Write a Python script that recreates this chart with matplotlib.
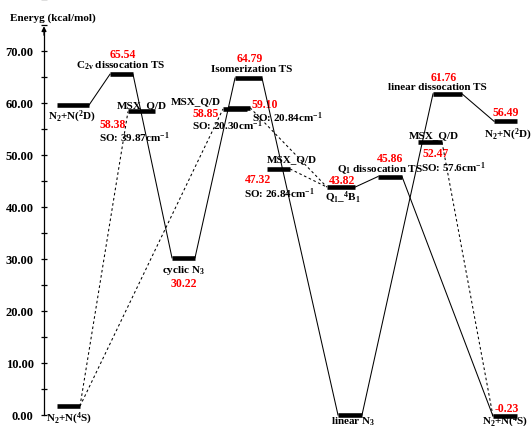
import matplotlib
matplotlib.use('Agg')
import matplotlib.pyplot as plt
from matplotlib.ticker import MultipleLocator, FormatStrFormatter

plt.rcParams['font.family'] = ['Liberation Serif', 'DejaVu Serif']
plt.rcParams['font.weight'] = 'bold'
plt.rcParams['font.size'] = 8
plt.rcParams['mathtext.fontset'] = 'custom'
plt.rcParams['mathtext.rm'] = 'Liberation Serif:bold'
plt.rcParams['mathtext.it'] = 'Liberation Serif:bold:italic'
plt.rcParams['mathtext.bf'] = 'Liberation Serif:bold'

# Stationary points / crossing points along the reaction coordinate (kcal/mol)
states = ['N2+N(2D) in', 'C2v TS', 'MSX 1', 'cyclic N3', 'MSX 2', 'MSX 3',
          'Isomerization TS', 'MSX 4', 'Q1 4B1', 'Q1 TS', 'linear N3', 'MSX 5',
          'linear TS', 'N2+N(2D) out', 'N2+N(4S) out', 'N2+N(4S) in']
energies = [59.60, 65.54, 58.38, 30.22, 58.85, 59.10, 64.79, 47.32, 43.82,
            45.86, 0.00, 52.47, 61.76, 56.49, -0.23, 1.70]
show_value = [False, True, True, True, True, True, True, True, True, True,
              False, True, True, True, True, False]

# horizontal extent of each level along the reaction coordinate
bar_left = [57, 110, 128, 172, 223, 228, 235, 267, 327, 378, 338, 418, 433, 494, 493, 57]
bar_right = [89, 133, 155, 195, 247, 250, 262, 290, 355, 402, 362, 442, 462, 517, 517, 80]

# connections: right end of the first level -> left end of the second
solid_links = [(0, 1), (1, 3), (3, 6), (6, 10), (10, 12), (12, 13), (8, 9), (9, 14)]
dotted_links = [(15, 2), (15, 4), (5, 8), (7, 8), (11, 14)]

# value label offsets (pixels from level centre, y upward)
value_offsets = {1: (1.5, 20), 2: (-28.5, -13), 3: (0.5, -25), 4: (-29, -4),
                 5: (26, 4), 6: (1.5, 20), 7: (-20.5, -10), 8: (1, 7),
                 9: (0, 19), 11: (6, -11), 12: (-3.5, 17), 13: (0, 9), 14: (2, 8)}

# name / annotation labels: text, level index, dx, dy, alignment
name_labels = [
    (r'N$_2$+N($^2$D)', 0, -1, -11, 'center'),
    (r'C$_{\mathrm{2v}}$ dissocation TS', 1, -0.5, 9, 'center'),
    ('MSX_Q/D', 2, 0.5, 7, 'center'),
    (r'SO: 39.87cm$^{-1}$', 2, -7.5, -25, 'center'),
    (r'cyclic N$_3$', 3, 0, -12, 'center'),
    ('MSX_Q/D', 4, -39, 8, 'center'),
    (r'SO: 20.30cm$^{-1}$', 4, -8, -16, 'center'),
    ('Isomerization TS', 6, 3.5, 10, 'center'),
    (r'SO: 20.84cm$^{-1}$', 5, 48, -9, 'center'),
    ('MSX_Q/D', 7, 13.5, 10, 'center'),
    (r'SO: 26.84cm$^{-1}$', 7, 0.5, -24, 'center'),
    (r'Q$_1$_$^4$B$_1$', 8, 2, -10, 'center'),
    (r'Q$_1$ dissocation TS', 9, -10, 8, 'center'),
    (r'linear N$_3$', 10, 3, -6, 'center'),
    ('MSX_Q/D', 11, 4, 8, 'center'),
    (r'SO: 57.6cm$^{-1}$', 11, 23, -25, 'center'),
    ('linear dissocation TS', 12, -10.5, 7, 'center'),
    (r'N$_2$+N($^2$D)', 13, -21, -13, 'left'),
    (r'N$_2$+N($^4$S)', 14, 0, -5, 'center'),
    (r'N$_2$+N($^4$S)', 15, 0.5, -12, 'center'),
]

y_major = [0, 10, 20, 30, 40, 50, 60, 70]

fig = plt.figure(figsize=(5.32, 4.27), dpi=100)
ax = fig.add_axes([0, 0, 1, 1])
px_per_unit = 5.2
ax.set_xlim(0, 532)
ax.set_ylim(-11 / px_per_unit, 416 / px_per_unit)

for s in ['top', 'right', 'bottom']:
    ax.spines[s].set_visible(False)
ax.spines['left'].set_position(('data', 44))
ax.spines['left'].set_bounds(0, 74)
ax.spines['left'].set_linewidth(0.9)
ax.set_xticks([])
ax.set_yticks(y_major)
ax.yaxis.set_minor_locator(MultipleLocator(5))
ax.yaxis.set_major_formatter(FormatStrFormatter('%.2f'))
ax.tick_params(axis='y', which='both', direction='inout', length=5, width=0.9,
               pad=5, labelsize=9)
for t in ax.get_yticklabels():
    t.set_fontweight('bold')
ax.annotate('', xy=(44, 75.3), xytext=(44, 72.5),
            arrowprops=dict(arrowstyle='-|>', lw=0.9, color='k', mutation_scale=7))
ax.text(10, (416 - 18) / px_per_unit, 'Eneryg (kcal/mol)',
        ha='left', va='center', fontsize=8, fontweight='bold')

# connecting paths
for a, b in solid_links:
    ax.plot([bar_right[a], bar_left[b]], [energies[a], energies[b]],
            color='k', lw=0.75, zorder=3)
for a, b in dotted_links:
    ax.plot([bar_right[a], bar_left[b]], [energies[a], energies[b]],
            color='k', lw=0.75, ls=(0, (2.5, 2.5)), zorder=3)

# energy levels
for i in range(len(states)):
    ax.plot([bar_left[i], bar_right[i]], [energies[i], energies[i]],
            color='k', lw=3.3, solid_capstyle='butt', zorder=4)

# energy values
for i, (dx, dy) in value_offsets.items():
    if not show_value[i]:
        continue
    cx = (bar_left[i] + bar_right[i]) / 2
    ax.annotate(f'{energies[i]:.2f}', xy=(cx, energies[i]), xytext=(dx, dy),
                textcoords='offset pixels', ha='center', va='center',
                color='red', fontsize=8.5, fontweight='bold', zorder=2)

# state names and SO couplings
for text, i, dx, dy, ha in name_labels:
    cx = (bar_left[i] + bar_right[i]) / 2
    ax.annotate(text, xy=(cx, energies[i]), xytext=(dx, dy),
                textcoords='offset pixels', ha=ha, va='center',
                color='black', fontsize=8, fontweight='bold', zorder=2)

fig.savefig('out.png', dpi=100)
